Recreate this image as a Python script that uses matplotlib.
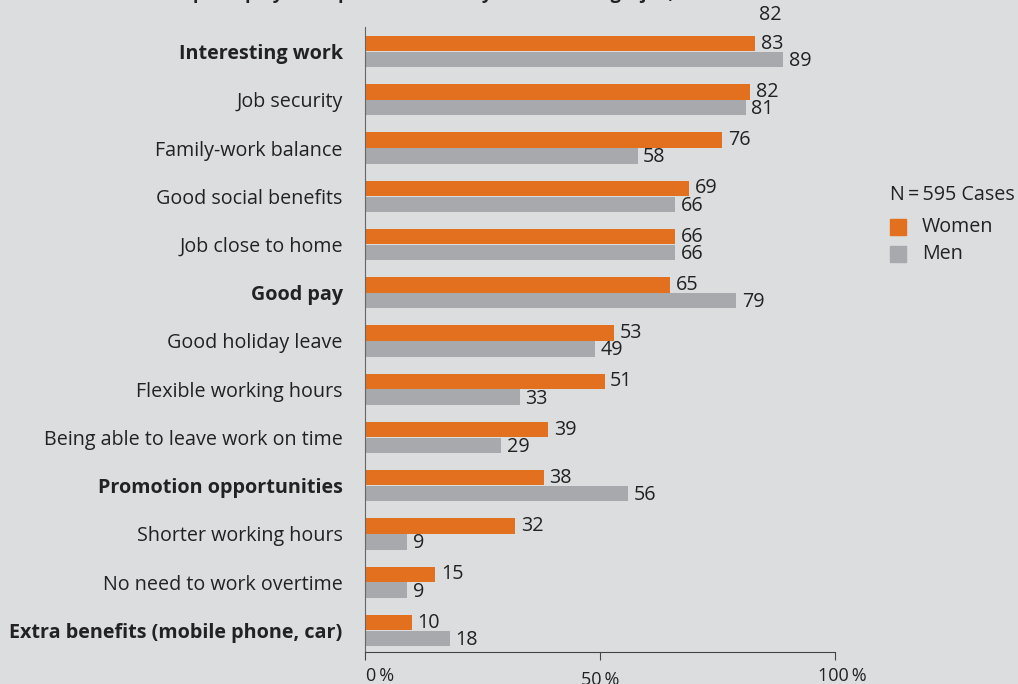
import numpy as np
import matplotlib
matplotlib.use("Agg")
from matplotlib import pyplot as plt
from matplotlib.transforms import ScaledTranslation

# data
categories = ["Interesting work", "Job security", "Family-work balance",
              "Good social benefits", "Job close to home", "Good pay",
              "Good holiday leave", "Flexible working hours",
              "Being able to leave work on time", "Promotion opportunities",
              "Shorter working hours", "No need to work overtime",
              "Extra benefits (mobile phone, car)"]
bold_cats = ["Interesting work", "Good pay", "Promotion opportunities",
             "Extra benefits (mobile phone, car)"]
women = [83, 82, 76, 69, 66, 65, 53, 51, 39, 38, 32, 15, 10]
men = [89, 81, 58, 66, 66, 79, 49, 33, 29, 56, 9, 9, 18]
xticks = [0, 50, 100]
xticklabels = ["0\u2009%", "50\u2009%", "100\u2009%"]
title = "Which aspects play an important role for you in choosing a job,"

orange = "#E3701E"
grey = "#A8A9AC"
bg = "#DCDDDF"
txt = "#222222"
fs = 14.2
plt.rcParams["font.family"] = ["Open Sans", "DejaVu Sans"]

fig = plt.figure(figsize=(10.18, 6.84), dpi=100, facecolor=bg)
ax = fig.add_axes([0.3585, 0.0468, 0.4617, 0.9137])
ax.set_facecolor(bg)

y = np.arange(len(categories))
h = 0.32
off = 0.165
ax.barh(y - off, women, height=h, color=orange, label="Women")
ax.barh(y + off, men, height=h, color=grey, label="Men")

for i in range(len(categories)):
    ax.annotate(str(women[i]), (women[i], y[i] - off), xytext=(4, 0),
                textcoords="offset points", va="center", ha="left",
                fontsize=fs, color=txt)
    ax.annotate(str(men[i]), (men[i], y[i] + off), xytext=(4, -1),
                textcoords="offset points", va="center", ha="left",
                fontsize=fs, color=txt)

ax.set_xlim(0, 100)
ax.set_ylim(12.446, -0.508)
ax.set_yticks(y)
ax.set_yticklabels(categories, fontsize=fs, color=txt)
for lab in ax.get_yticklabels():
    if lab.get_text() in bold_cats:
        lab.set_fontweight("bold")
ax.tick_params(axis="y", length=0, pad=16)
ax.set_xticks(xticks)
ax.set_xticklabels(xticklabels, fontsize=13, color=txt)
ax.tick_params(axis="x", length=6, color="#444444", pad=5)
# tick labels are nudged in the original: 0 % right, 50 % lower, 100 % right
shifts = [(15, 0), (0, -4), (7, 0)]
for lab, (dx, dy) in zip(ax.get_xticklabels(), shifts):
    lab.set_transform(lab.get_transform() +
                      ScaledTranslation(dx / 100, dy / 100, fig.dpi_scale_trans))
for s in ["top", "right"]:
    ax.spines[s].set_visible(False)
ax.spines["left"].set_color("#666666")
ax.spines["bottom"].set_color("#444444")

# legend
fig.text(890 / 1018, 1 - 195 / 684, "N\u2009=\u2009595 Cases", fontsize=fs,
         color=txt, va="center", ha="left")
fig.patches.append(plt.Rectangle((890 / 1018, 1 - 235 / 684), 16 / 1018, 16 / 684,
                                 transform=fig.transFigure, color=orange))
fig.patches.append(plt.Rectangle((890 / 1018, 1 - 262 / 684), 16 / 1018, 16 / 684,
                                 transform=fig.transFigure, color=grey))
fig.text(922 / 1018, 1 - 227 / 684, "Women", fontsize=fs, color=txt, va="center")
fig.text(922 / 1018, 1 - 254 / 684, "Men", fontsize=fs, color=txt, va="center")

# cut-off title and stray label at the top
fig.text(113 / 1018, 1 + 1 / 684, title, fontsize=13, fontweight="bold",
         color=txt, va="baseline", ha="left")
fig.text(759 / 1018, 1 - 15 / 684, "82", fontsize=fs, color=txt,
         va="center", ha="left")

fig.savefig("out.png", dpi=100, facecolor=bg)
